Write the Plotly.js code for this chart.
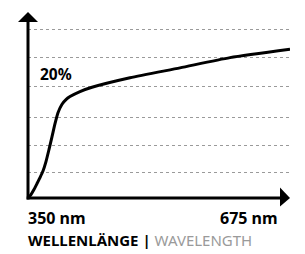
<!DOCTYPE html>
<html>
<head>
<meta charset="utf-8">
<script src="https://cdn.plot.ly/plotly-3.0.1.min.js"></script>
<style>html,body{margin:0;padding:0;background:#fff;}#chart{width:305px;height:254px;}</style>
</head>
<body>
<div id="chart"></div>
<script>
// Wavelength (nm) and relative value (%)
const wavelength = [350, 353.7, 357.4, 361.2, 364.9, 368.6, 372.3, 376.0, 379.8, 383.5, 387.2, 392.2, 397.1, 402.1, 414.5, 429.4, 476.5, 538.5, 600.6, 675];
const percent    = [0,   0.62,  1.51,  2.57,  3.63,  4.79,  6.47,  8.60,  10.90, 13.21, 15.16, 16.67, 17.50, 18.03, 18.92, 19.68, 21.37, 23.14, 24.96, 26.45];
const gridValues = [4.47, 9.31, 14.4, 19.8, 25.0, 30.0];
const xStartLabel = '350 nm';
const xEndLabel = '675 nm';
const valueLabel = '20%';
const titleDe = 'WELLENLÄNGE |';
const titleEn = 'WAVELENGTH';

const FONT = 'Noto Sans, Open Sans, sans-serif';

const trace = {
  x: wavelength, y: percent, type: 'scatter', mode: 'lines',
  line: {color: '#000', width: 3, shape: 'spline', smoothing: 0.6},
  hoverinfo: 'skip'
};

const layout = {
  width: 305, height: 254,
  margin: {l: 28, r: 15, t: 12, b: 55.5, pad: 0},
  paper_bgcolor: '#fff', plot_bgcolor: '#fff',
  showlegend: false,
  xaxis: {range: [350, 675], showgrid: false, zeroline: false, showline: false, showticklabels: false, ticks: ''},
  yaxis: {range: [0, 33.07], tickvals: gridValues, showgrid: true, gridcolor: '#9a9a9a', gridwidth: 1, griddash: 'dot',
          zeroline: false, showline: false, showticklabels: false, ticks: ''},
  shapes: [
    {type: 'line', xref: 'paper', yref: 'paper', x0: 0, x1: 0, y0: -0.008, y1: 0.95, line: {color: '#000', width: 3}},
    {type: 'line', xref: 'paper', yref: 'paper', x0: -0.005, x1: 0.965, y0: 0, y1: 0, line: {color: '#000', width: 3}},
    {type: 'path', xref: 'paper', yref: 'paper', path: 'M -0.0382 0.9464 L 0.0382 0.9464 L 0 1.0 Z', fillcolor: '#000', line: {width: 0}},
    {type: 'path', xref: 'paper', yref: 'paper', path: 'M 0.9618 0.0563 L 0.9618 -0.0456 L 1.0 0 Z', fillcolor: '#000', line: {width: 0}}
  ],
  annotations: [
    {xref: 'paper', yref: 'paper', x: 0.107, y: 0.667, text: '<b>' + valueLabel + '</b>', showarrow: false,
     xanchor: 'center', yanchor: 'middle', font: {family: FONT, size: 15.5, color: '#000'}},
    {xref: 'paper', yref: 'paper', x: -0.006, y: -0.108, text: '<b>' + xStartLabel + '</b>', showarrow: false,
     xanchor: 'left', yanchor: 'middle', font: {family: FONT, size: 16, color: '#000'}},
    {xref: 'paper', yref: 'paper', x: 0.962, y: -0.108, text: '<b>' + xEndLabel + '</b>', showarrow: false,
     xanchor: 'right', yanchor: 'middle', font: {family: FONT, size: 16, color: '#000'}},
    {xref: 'paper', yref: 'paper', x: -0.006, y: -0.225, text: '<b>' + titleDe + '</b> <span style="color:#9a9a9a">' + titleEn + '</span>', showarrow: false,
     xanchor: 'left', yanchor: 'middle', font: {family: FONT, size: 15, color: '#000'}}
  ]
};

Plotly.newPlot('chart', [trace], layout, {staticPlot: true, displayModeBar: false});
</script>
</body>
</html>
